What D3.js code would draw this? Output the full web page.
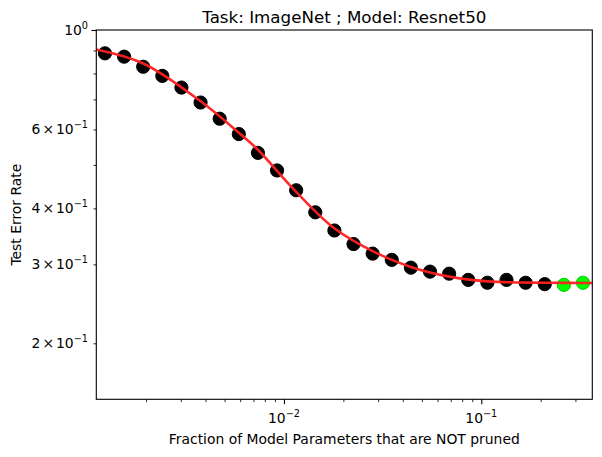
<!DOCTYPE html>
<html><head><meta charset="utf-8">
<script src="https://cdn.jsdelivr.net/npm/d3@7"></script>
<style>body{margin:0;background:#fff}svg{display:block}text{font-family:"DejaVu Sans",sans-serif;fill:#000}</style>
</head><body>
<svg id="c" width="602" height="457"></svg>
<script>
// Fraction of parameters NOT pruned (x) and test error rate (y)
const fractions = [0.001238,0.001548,0.001934,0.002418,0.003022,0.003778,0.004722,0.005903,0.007379,0.009223,0.011529,0.014412,0.018014,0.022518,0.028147,0.035184,0.043980,0.054976,0.068719,0.085899,0.107374,0.134218,0.167772,0.209715,0.262144,0.327680];
const errors    = [0.887,0.872,0.828,0.790,0.744,0.689,0.634,0.586,0.532,0.486,0.439,0.392,0.357,0.333,0.317,0.307,0.295,0.289,0.286,0.277,0.273,0.277,0.273,0.271,0.270,0.273];
const isGreen   = [0,0,0,0,0,0,0,0,0,0,0,0,0,0,0,0,0,0,0,0,0,0,0,0,1,1];
// fitted curve
const fitX = [0.001119,0.001936,0.003752,0.005984,0.007270,0.01150,0.01799,0.02815,0.04351,0.06882,0.1077,0.2128,0.3653];
const fitY = [0.905,0.842,0.695,0.587,0.544,0.436,0.361,0.321,0.2965,0.2817,0.2749,0.2730,0.2726];
const xMajor = [0.01,0.1];
const xMajorLabels = [["10","\u22122"],["10","\u22121"]];
const yLabeled = [0.2,0.3,0.4,0.6];
const yLabeledMant = ["2","3","4","6"];
const yMinorOnly = [0.5,0.7,0.8,0.9];
const title = "Task: ImageNet ; Model: Resnet50";
const xTitle = "Fraction of Model Parameters that are NOT pruned";
const yTitle = "Test Error Rate";

const L=96.3,R=592.3,T=30,B=399.3;
const x = d3.scaleLog().domain([0.001119,0.3653]).range([L,R]);
const y = d3.scaleLog().domain([0.15,1]).range([B,T]);
const svg = d3.select("#c");

// points
const pts = fractions.map((f,i)=>({x:f,y:errors[i],g:isGreen[i]}));
svg.append("g").selectAll("circle").data(pts).join("circle")
  .attr("cx",d=>x(d.x)).attr("cy",d=>y(d.y)).attr("r",6.6)
  .attr("fill",d=>d.g?"#00ff00":"#000")
  .attr("stroke",d=>d.g?"#00c800":"#000").attr("stroke-width",1);

// fit line
const fit = fitX.map((v,i)=>[v,fitY[i]]);
svg.append("path").datum(fit)
  .attr("d",d3.line().x(d=>x(d[0])).y(d=>y(d[1])).curve(d3.curveCatmullRom))
  .attr("fill","none").attr("stroke","#ff2020").attr("stroke-width",2.6).attr("stroke-opacity",0.95);

// frame
svg.append("rect").attr("x",L).attr("y",T).attr("width",R-L).attr("height",B-T)
  .attr("fill","none").attr("stroke","#000").attr("stroke-width",1.1);

// x ticks
const xAxis = d3.axisBottom(x).tickValues(xMajor).tickSize(4.9).tickFormat("");
const gx = svg.append("g").attr("transform",`translate(0,${B})`).call(xAxis);
gx.select(".domain").remove();
gx.selectAll("line").attr("stroke-width",1.1);
const xMinor = [];
[0.001,0.01,0.1].forEach(dec=>{for(let k=2;k<=9;k++){const v=dec*k;if(v>=0.001119&&v<=0.3653)xMinor.push(v);}});
const gxm = svg.append("g").attr("transform",`translate(0,${B})`).call(d3.axisBottom(x).tickValues(xMinor).tickSize(2.8).tickFormat(""));
gxm.select(".domain").remove();
gxm.selectAll("line").attr("stroke-width",0.85);
xMajor.forEach((v,i)=>{
  const t=svg.append("text").attr("x",x(v)).attr("y",423).attr("text-anchor","middle").attr("font-size",13.9);
  t.append("tspan").text(xMajorLabels[i][0]);
  t.append("tspan").attr("dy",-6).attr("font-size",9.7).text(xMajorLabels[i][1]);
});

// y ticks
const gy = svg.append("g").attr("transform",`translate(${L},0)`).call(d3.axisLeft(y).tickValues([1]).tickSize(4.9).tickFormat(""));
gy.select(".domain").remove();
gy.selectAll("line").attr("stroke-width",1.1);
const gym = svg.append("g").attr("transform",`translate(${L},0)`).call(d3.axisLeft(y).tickValues(yLabeled.concat(yMinorOnly)).tickSize(2.8).tickFormat(""));
gym.select(".domain").remove();
gym.selectAll("line").attr("stroke-width",0.85);
{
  const t=svg.append("text").attr("x",88).attr("y",y(1)+5).attr("text-anchor","end").attr("font-size",13.9);
  t.append("tspan").text("10");
  t.append("tspan").attr("dy",-6).attr("font-size",9.7).text("0");
}
yLabeled.forEach((v,i)=>{
  const t=svg.append("text").attr("x",88).attr("y",y(v)+5).attr("text-anchor","end").attr("font-size",13.9);
  t.append("tspan").text(yLabeledMant[i]);
  t.append("tspan").attr("dx",2).text("\u00d7");
  t.append("tspan").attr("dx",2).text("10");
  t.append("tspan").attr("dy",-6).attr("font-size",9.7).text("\u22121");
});

// titles
svg.append("text").attr("x",(L+R)/2).attr("y",22.5).attr("text-anchor","middle").attr("font-size",16.7).text(title);
svg.append("text").attr("x",(L+R)/2).attr("y",444).attr("text-anchor","middle").attr("font-size",13.9).text(xTitle);
svg.append("text").attr("transform",`translate(21,${(T+B)/2}) rotate(-90)`).attr("text-anchor","middle").attr("font-size",13.9).text(yTitle);
</script>
</body></html>
